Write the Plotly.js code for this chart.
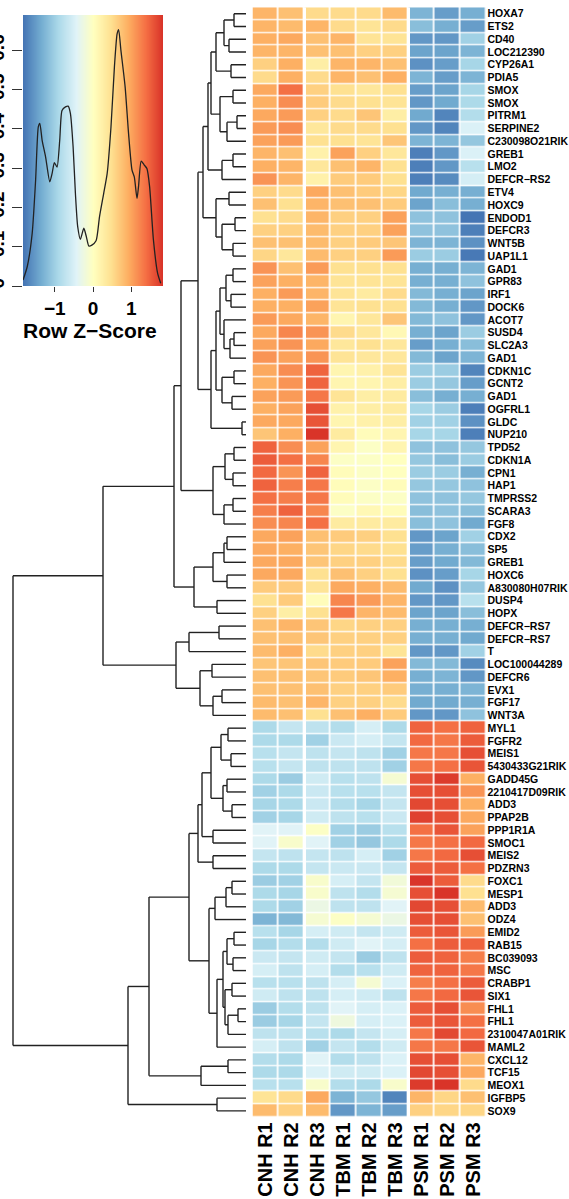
<!DOCTYPE html>
<html><head><meta charset="utf-8">
<script src="https://cdn.plot.ly/plotly-3.0.1.min.js"></script>
<style>html,body{margin:0;padding:0;background:#fff;overflow:hidden}#chart{width:569px;height:1199px}</style>
</head><body><div id="chart"></div>
<script>
// ---------------- data ----------------
const samples = ['CNH R1','CNH R2','CNH R3','TBM R1','TBM R2','TBM R3','PSM R1','PSM R2','PSM R3'];
const genes = ['HOXA7','ETS2','CD40','LOC212390','CYP26A1','PDIA5','SMOX','SMOX','PITRM1','SERPINE2',
 'C230098O21RIK','GREB1','LMO2','DEFCR−RS2','ETV4','HOXC9','ENDOD1','DEFCR3','WNT5B','UAP1L1',
 'GAD1','GPR83','IRF1','DOCK6','ACOT7','SUSD4','SLC2A3','GAD1','CDKN1C','GCNT2',
 'GAD1','OGFRL1','GLDC','NUP210','TPD52','CDKN1A','CPN1','HAP1','TMPRSS2','SCARA3',
 'FGF8','CDX2','SP5','GREB1','HOXC6','A830080H07RIK','DUSP4','HOPX','DEFCR−RS7','DEFCR−RS7',
 'T','LOC100044289','DEFCR6','EVX1','FGF17','WNT3A','MYL1','FGFR2','MEIS1','5430433G21RIK',
 'GADD45G','2210417D09RIK','ADD3','PPAP2B','PPP1R1A','SMOC1','MEIS2','PDZRN3','FOXC1','MESP1',
 'ADD3','ODZ4','EMID2','RAB15','BC039093','MSC','CRABP1','SIX1','FHL1','FHL1',
 '2310047A01RIK','MAML2','CXCL12','TCF15','MEOX1','IGFBP5','SOX9'];
// row z-scores (one list per gene, in sample order)
const rowZ = [
[0.85,0.75,0.5,0.5,0.5,0.8,-1.3,-1.5,-1.35],
[0.85,0.8,0.85,0.5,0.4,0.5,-1.2,-1.35,-1.5],
[0.9,0.95,0.75,0.85,0.4,0.4,-1.55,-1.55,-1.0],
[0.85,0.85,0.75,0.75,0.6,0.6,-1.45,-1.45,-1.3],
[0.6,0.9,0.25,0.85,0.85,0.75,-1.6,-1.5,-0.95],
[0.5,0.9,0.5,0.85,0.75,0.9,-1.3,-1.5,-1.3],
[0.95,1.35,0.6,0.45,0.35,0.45,-1.5,-1.45,-0.95],
[0.9,1.15,0.65,0.5,0.45,0.4,-1.55,-1.4,-0.9],
[0.95,1.05,0.6,0.5,0.7,0.25,-1.4,-1.7,-0.85],
[1.05,1.15,0.35,0.5,0.5,0.45,-1.55,-1.7,-0.5],
[1.0,1.05,0.45,0.45,0.4,0.7,-1.3,-1.3,-1.1],
[0.85,0.75,0.2,1.0,0.6,0.35,-1.75,-1.55,-0.5],
[0.9,0.85,0.35,0.75,0.85,0.45,-1.75,-1.55,-0.8],
[1.1,0.85,0.2,0.65,0.65,0.45,-1.75,-1.65,-0.55],
[0.6,0.5,0.95,0.75,0.65,0.55,-1.4,-1.35,-1.35],
[0.75,0.45,0.85,0.75,0.75,0.65,-1.45,-1.2,-1.35],
[0.45,0.5,0.85,0.6,0.6,1.0,-1.15,-1.15,-1.85],
[0.6,0.6,0.8,0.6,0.6,1.0,-1.15,-1.15,-1.75],
[0.75,0.75,0.8,0.6,0.65,0.7,-1.3,-1.3,-1.6],
[0.55,0.35,0.8,0.6,0.6,1.05,-1.05,-1.05,-1.8],
[1.1,0.75,1.05,0.45,0.45,0.45,-1.35,-1.35,-1.3],
[1.0,0.9,0.85,0.4,0.4,0.4,-1.35,-1.35,-1.15],
[0.9,1.05,0.85,0.4,0.3,0.5,-1.25,-1.35,-1.45],
[0.9,0.9,1.0,0.4,0.45,0.45,-1.25,-1.35,-1.55],
[1.05,0.95,0.85,0.15,0.35,0.7,-1.25,-1.15,-1.55],
[0.95,1.2,1.1,0.5,0.35,0.1,-1.35,-1.45,-1.05],
[1.0,1.1,0.95,0.35,0.45,0.35,-1.5,-1.35,-1.2],
[1.1,1.0,1.1,0.4,0.35,0.35,-1.25,-1.45,-1.3],
[0.95,1.15,1.45,0.15,0.2,0.4,-1.05,-1.05,-1.7],
[0.9,1.1,1.45,0.15,0.15,0.25,-1.05,-1.1,-1.5],
[1.0,1.05,1.3,0.4,0.25,0.3,-1.2,-1.35,-1.35],
[0.9,1.0,1.6,0.2,0.25,0.3,-0.95,-1.05,-1.75],
[0.95,0.95,1.55,0.15,0.2,0.25,-1.0,-1.0,-1.6],
[0.7,0.9,1.8,0.3,0.05,0.15,-0.95,-0.95,-1.75],
[1.45,1.15,1.0,0.15,-0.05,0.15,-1.15,-1.15,-1.1],
[1.5,1.35,1.2,-0.05,-0.05,0.0,-1.1,-1.2,-1.05],
[1.4,1.1,1.45,0.05,-0.05,0.0,-1.05,-1.05,-1.35],
[1.45,1.25,1.3,0.05,-0.05,0.05,-1.1,-1.1,-1.15],
[1.35,1.25,1.3,0.05,-0.05,-0.05,-1.15,-1.15,-1.1],
[1.25,1.45,1.2,-0.05,0.1,0.05,-1.2,-1.15,-1.2],
[1.15,1.2,1.35,0.3,0.3,0.3,-1.2,-1.15,-1.4],
[0.95,1.0,0.75,0.65,0.6,0.45,-1.55,-1.45,-1.0],
[0.95,0.9,0.7,0.55,0.5,0.45,-1.5,-1.35,-1.2],
[0.95,0.95,0.7,0.6,0.6,0.5,-1.5,-1.4,-1.25],
[0.95,0.95,0.45,0.75,0.6,0.45,-1.6,-1.5,-0.95],
[0.65,0.65,0.4,0.95,0.9,0.8,-1.4,-1.6,-1.1],
[0.45,0.65,0.05,1.2,1.05,0.85,-1.55,-1.55,-0.8],
[0.6,0.25,0.45,1.3,0.85,0.8,-1.45,-1.45,-1.2],
[0.75,0.85,0.7,0.55,0.6,0.6,-1.35,-1.35,-1.35],
[0.75,0.75,0.7,0.6,0.6,0.6,-1.35,-1.35,-1.4],
[0.8,0.9,0.5,0.6,0.6,0.4,-1.55,-1.55,-1.0],
[0.7,0.7,0.7,0.65,0.65,1.0,-1.25,-1.25,-1.65],
[0.75,0.75,0.7,0.65,0.7,0.9,-1.35,-1.3,-1.55],
[0.75,0.75,0.75,0.6,0.6,0.65,-1.35,-1.35,-1.3],
[0.8,0.75,0.85,0.6,0.6,0.5,-1.4,-1.4,-1.35],
[0.8,0.75,0.45,0.75,0.9,0.65,-1.55,-1.55,-1.15],
[-0.9,-0.7,-0.75,-0.85,-0.55,-0.9,1.45,1.35,1.45],
[-0.9,-0.9,-1.0,-0.65,-0.55,-0.7,1.4,1.3,1.5],
[-0.8,-0.7,-0.75,-0.7,-0.75,-1.0,1.3,1.3,1.6],
[-0.8,-0.7,-0.75,-0.75,-0.75,-1.0,1.3,1.35,1.55],
[-0.9,-1.05,-0.6,-0.8,-0.75,-0.15,1.6,1.75,0.9],
[-1.0,-0.9,-0.65,-0.8,-0.8,-0.7,1.6,1.6,1.1],
[-0.95,-0.9,-0.65,-0.85,-0.95,-0.7,1.65,1.6,0.9],
[-1.0,-0.95,-0.6,-0.75,-0.8,-0.65,1.7,1.6,0.95],
[-0.45,-0.45,-0.05,-1.0,-1.05,-0.8,1.35,1.55,1.0],
[-0.45,-0.1,-0.45,-1.0,-1.1,-0.9,1.3,1.35,1.4],
[-0.7,-0.75,-0.7,-0.75,-0.55,-1.0,1.3,1.4,1.6],
[-0.9,-0.9,-0.7,-0.65,-0.65,-0.7,1.5,1.5,1.35],
[-1.05,-1.0,-0.1,-0.55,-0.7,-0.2,1.8,1.5,0.5],
[-0.9,-0.95,-0.1,-0.75,-0.85,-0.15,1.6,1.8,0.45],
[-0.9,-1.0,-0.3,-0.75,-0.75,-0.45,1.65,1.6,0.8],
[-1.3,-1.25,-0.15,-0.05,-0.15,-0.3,1.6,1.6,0.75],
[-0.8,-0.95,-0.55,-0.6,-0.7,-0.6,1.5,1.55,1.05],
[-0.95,-0.85,-0.85,-0.6,-0.45,-0.55,1.35,1.5,1.45],
[-0.65,-0.7,-0.6,-0.7,-1.05,-0.75,1.5,1.45,1.25],
[-0.55,-0.75,-0.55,-0.85,-0.8,-0.6,1.45,1.45,1.3],
[-0.8,-0.8,-0.75,-0.55,-0.15,-0.5,1.25,1.35,1.5],
[-0.6,-0.75,-0.75,-0.55,-0.6,-0.75,1.3,1.4,1.55],
[-1.05,-0.85,-0.75,-0.45,-0.55,-0.5,1.5,1.6,1.15],
[-1.05,-0.95,-0.7,-0.25,-0.55,-0.5,1.5,1.55,1.35],
[-0.75,-0.75,-0.8,-0.9,-0.7,-0.55,1.3,1.65,1.4],
[-0.55,-0.75,-1.0,-0.7,-0.85,-0.6,1.3,1.3,1.55],
[-0.85,-0.9,-0.45,-0.85,-0.75,-0.5,1.6,1.6,0.85],
[-0.9,-0.9,-0.5,-0.6,-0.6,-0.5,1.65,1.6,0.95],
[-0.8,-0.8,-0.1,-0.85,-0.9,-0.1,1.75,1.8,0.5],
[0.4,0.5,0.95,-1.3,-1.1,-1.7,0.85,0.55,0.75],
[0.8,0.6,0.8,-1.55,-1.3,-1.5,0.6,0.55,0.55]
];
// colour key: break values and colours (RdYlBu, reversed)
const keyBreaks = [-1.83,-1.3725,-0.915,-0.4575,0,0.4575,0.915,1.3725,1.83];
const keyColors = ['#4575b4','#74add1','#abd9e9','#e0f3f8','#ffffbf','#fee090','#fdae61','#f46d43','#d73027'];
// density curve in the colour key
const densityZ = [-1.83,-1.72,-1.59,-1.50,-1.43,-1.39,-1.33,-1.24,-1.13,-1.07,-1.01,-0.94,-0.87,-0.81,-0.72,-0.65,-0.59,-0.52,-0.46,-0.40,-0.33,-0.24,-0.17,-0.11,-0.03,0.08,0.17,0.28,0.37,0.47,0.56,0.63,0.67,0.73,0.84,0.93,1.02,1.08,1.15,1.19,1.26,1.34,1.41,1.48,1.58,1.69,1.77];
const densityY = [0.015,0.049,0.134,0.27,0.405,0.414,0.371,0.329,0.265,0.286,0.314,0.303,0.371,0.447,0.456,0.458,0.439,0.354,0.236,0.151,0.119,0.147,0.124,0.102,0.104,0.115,0.176,0.236,0.286,0.405,0.558,0.642,0.653,0.600,0.507,0.388,0.295,0.278,0.223,0.253,0.318,0.308,0.299,0.253,0.117,0.032,0.007];
const keyTicksX = [-1,0,1];
const keyTicksY = [0,0.1,0.2,0.3,0.4,0.5,0.6];
// row dendrogram: [mergeHeight, left, right]; leaves are row numbers (1 = top)
const rowTree =
[233,
  [143,
    [72,
      [65,
        [48,
          [43,
            [38,
              [35, [30, [22, [12,1,2],[17,3,4]], [15,5,6]], [26, [13,7,8], [19, [9,9,10], 11]]],
              [24, [13,12,13], 14]
            ],
            [30, [17,15,16], [24, [11,17,18], [13,19,20]]]
          ],
          [35,
            [30, [26, [20, [13,21,22], [15,23,24]], [22, 25, [16, [12,26,27], 28]]],
                 [24, [12,29,30], [14,31,32]]],
            [4,33,34]
          ]
        ],
        [33, [21, [12,35,36], [13,37,38]], [22, [13,39,40], 41]]
      ],
      [52, [33, [22, [19,42,43], 44], [19,45,46]], [29,47,48]]
    ],
    [70, [57, [27,49,50], 51], [46, [34,52,53], [33, [24,54,55], 56]]]
  ],
  [118,
    [97,
      [57,
        [48, [44, [35, [25, [18,57,58],[15,59,60]], [23, [19,61,62],[14,63,64]]], [33,65,66]], [33,67,68]],
        [37, [31, [20, [14,69,70], 71], 72], [29, [23, [19, [12,73,74],[13,75,76]], [21, [14,77,78], [18, [8,79,80], 81]]], 82]]
      ],
      [45, [18,83,84], 85]
    ],
    [29,86,87]
  ]
];

// ---------------- build ----------------
const W = 569, H = 1199;
const zMin = keyBreaks[0], zMax = keyBreaks[keyBreaks.length-1];
const colorscale = keyBreaks.map((b,i)=>[(b-zMin)/(zMax-zMin), keyColors[i]]);

const dx = [], dy = [];
function walk(node){
  if (typeof node === 'number') return {y: node-1, h: 0};
  const a = walk(node[1]), b = walk(node[2]), h = node[0];
  dx.push(h, h, null); dy.push(a.y, b.y, null);
  dx.push(h, a.h, null); dy.push(a.y, a.y, null);
  dx.push(h, b.h, null); dy.push(b.y, b.y, null);
  return {y: (a.y+b.y)/2, h: h};
}
walk(rowTree);

const rowIdx = genes.map((g,i)=>i);
const colIdx = samples.map((s,i)=>i);

const traces = [
  {type:'heatmap', z: rowZ, x: colIdx, y: rowIdx, colorscale, zmin: zMin, zmax: zMax,
   showscale:false, xgap:1.7, ygap:1.3, xaxis:'x', yaxis:'y', hoverinfo:'skip'},
  {type:'scatter', mode:'lines', x: dx, y: dy, xaxis:'x3', yaxis:'y',
   line:{color:'#222', width:1.4}, hoverinfo:'skip', cliponaxis:false},
  {type:'heatmap', z:[keyBreaks, keyBreaks], x: keyBreaks, y:[0, 0.69], zsmooth:'best',
   colorscale, zmin: zMin, zmax: zMax, showscale:false, xaxis:'x2', yaxis:'y2', hoverinfo:'skip'},
  {type:'scatter', mode:'lines', x: densityZ, y: densityY, xaxis:'x2', yaxis:'y2',
   line:{color:'#222', width:1.3, shape:'spline', smoothing:0.6}, hoverinfo:'skip'}
];

const hmTop = 7.3, hmBot = 1117.3;
const FONT = 'Liberation Sans, Arial, Helvetica, sans-serif';
const layout = {
  width: W, height: H, margin:{l:0,r:0,t:0,b:0}, showlegend:false,
  paper_bgcolor:'#fff', plot_bgcolor:'rgba(0,0,0,0)',
  font:{family: FONT, color:'#000'},
  xaxis:{domain:[252.5/W, 486.5/W], anchor:'y', range:[-0.5, 8.5], tickvals: colIdx, ticktext: samples,
         tickangle:-90, tickfont:{size:20, weight:'bold'}, ticks:'', showgrid:false, zeroline:false,
         showline:false, automargin:false},
  yaxis:{domain:[1-hmBot/H, 1-hmTop/H], anchor:'x', range:[86.5,-0.5], tickvals: rowIdx, ticktext: genes,
         side:'right', tickfont:{size:10.5, weight:'bold'}, ticks:'', showgrid:false, zeroline:false,
         showline:false, automargin:false},
  xaxis3:{domain:[0, 252/W], anchor:'y', range:[246,-6], visible:false, showgrid:false, zeroline:false},
  xaxis2:{domain:[23/W, 163/W], anchor:'y2', range:[zMin, zMax], tickvals: keyTicksX,
          ticks:'outside', ticklen:5, tickwidth:1, tickcolor:'#333', tickfont:{size:19, weight:'bold'},
          showgrid:false, zeroline:false, showline:false, automargin:false},
  yaxis2:{domain:[1-286/H, 1-15/H], anchor:'x2', range:[0, 0.69], tickvals: keyTicksY,
          ticktext: keyTicksY.map(String), tickangle:-90, ticks:'outside', ticklen:10, tickwidth:1,
          tickcolor:'#333', tickfont:{size:19, weight:'bold'}, showgrid:false, zeroline:false,
          showline:false, automargin:false},
  annotations:[{text:'Row Z−Score', xref:'paper', yref:'paper', x:90/W, y:1-330/H,
                xanchor:'center', yanchor:'middle', showarrow:false, font:{size:21, weight:'bold'}}],
  shapes:[
    {type:'line', xref:'x', yref:'y', x0:1.5, x1:1.5, y0:-0.5, y1:86.5, line:{color:'#fff', width:3}},
    {type:'line', xref:'x', yref:'y', x0:5.5, x1:5.5, y0:-0.5, y1:86.5, line:{color:'#fff', width:3}}
  ]
};
Plotly.newPlot('chart', traces, layout, {staticPlot:true, displayModeBar:false});
</script></body></html>
